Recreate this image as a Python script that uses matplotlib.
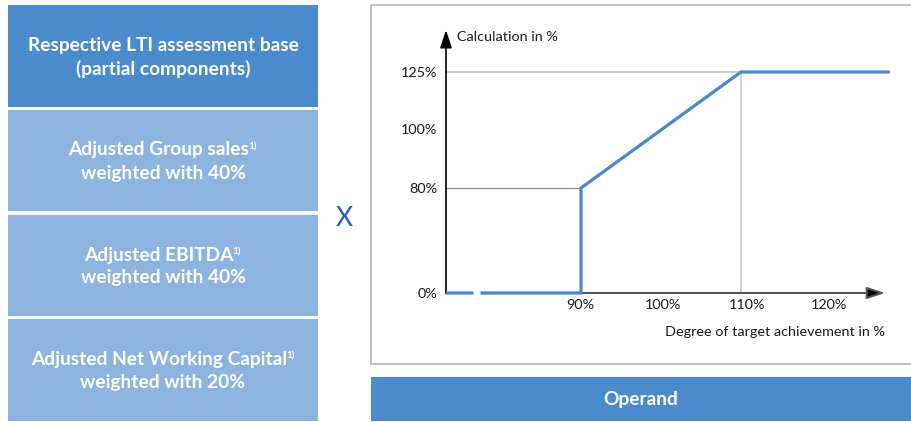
import numpy as np
import matplotlib
matplotlib.use("Agg")
import matplotlib.pyplot as plt
from matplotlib.patches import Rectangle
from matplotlib.transforms import ScaledTranslation

plt.rcParams['font.family'] = ['Lato', 'DejaVu Sans']

# --- data -------------------------------------------------------------
achievement = [73.1, 90, 90, 110, 128.6]      # degree of target achievement (%)
payout = [0, 0, 80, 125, 125]                 # calculation (%)
x_ticks = [90, 100, 110, 120]
x_tick_labels = ["90%", "100%", "110%", "120%"]
y_ticks = [0, 80, 100, 125]
y_tick_labels = ["0%", "80%", "100%", "125%"]
axis_break = [76.5, 77.4]

box_lines = [
    ("Respective LTI assessment base", "(partial components)", False),
    ("Adjusted Group sales", "weighted with 40%", True),
    ("Adjusted EBITDA", "weighted with 40%", True),
    ("Adjusted Net Working Capital", "weighted with 20%", True),
]

DARK = "#4b8bcc"
LIGHT = "#8db4de"
LINE = "#4a88cc"
TXT = "#1a1a1a"

W, H = 912, 422
fig = plt.figure(figsize=(W / 100, H / 100), dpi=100)

# canvas in pixel units for the boxes
bg = fig.add_axes([0, 0, 1, 1])
bg.set_xlim(0, W)
bg.set_ylim(H, 0)
bg.axis("off")

BOX_FS = 13.8
rows = [(5, 107), (110, 211), (215, 316), (319, 421)]
for i, ((y0, y1), (l1, l2, note)) in enumerate(zip(rows, box_lines)):
    bg.add_patch(Rectangle((8, y0), 310, y1 - y0, color=DARK if i == 0 else LIGHT, lw=0))
    yc = (y0 + y1) / 2
    t1 = bg.text(163 - (4 if note else 0), yc - 10.5, l1, ha="center", va="center",
                 color="white", fontsize=BOX_FS, fontweight="bold")
    if note:
        bg.annotate("1)", xy=(1, 0.68), xycoords=t1, xytext=(-1, 0),
                    textcoords="offset pixels", ha="left", va="center",
                    color="white", fontsize=7, fontweight="bold")
    bg.text(163, yc + 12.5, l2, ha="center", va="center", color="white",
            fontsize=BOX_FS, fontweight="bold")

bg.text(344, 219, "X", ha="center", va="center", color="#1f60bb", fontsize=19)

# chart frame and operand bar
bg.add_patch(Rectangle((371.5, 5), 545, 359, fill=False, edgecolor="#b4b4b4", lw=1.2))
bg.add_patch(Rectangle((371, 377), 545, 44, color=DARK, lw=0))
bg.text(641, 399.5, "Operand", ha="center", va="center", color="white",
        fontsize=BOX_FS, fontweight="bold")

# --- chart ------------------------------------------------------------
yk = [0, 80, 100, 125, 200]
pk = [0, 105, 164, 221, 392]


def fwd(v):
    return np.interp(v, yk, pk)


def inv(p):
    return np.interp(p, pk, yk)


ax = fig.add_axes([446 / W, (H - 293) / H, (895 - 446) / W, (293 - 26.4) / H])
ax.set_yscale("function", functions=(fwd, inv))
ax.set_xlim(73.125, 129.25)
ax.set_ylim(0, 145)
for s in ax.spines.values():
    s.set_visible(False)
ax.patch.set_alpha(0)

# reference lines
ax.plot([73.125, 110], [125, 125], color="#c8c8c8", lw=1.2, zorder=1, clip_on=False)
ax.plot([110, 110], [0, 125], color="#c8c8c8", lw=1.2, zorder=1, clip_on=False)
ax.plot([73.125, 90], [80, 80], color="#8a8a8a", lw=0.8, zorder=1, clip_on=False)

# axes arrows
ax.annotate("", xy=(128.0, 0), xytext=(73.125, 0),
            arrowprops=dict(arrowstyle="-|>,head_length=1.08,head_width=0.36",
                            mutation_scale=10, lw=1.5, color="#555555",
                            fc="black", ec="#555555", shrinkA=0, shrinkB=0),
            zorder=2, annotation_clip=False)
ax.annotate("", xy=(73.125, 143.4), xytext=(73.125, 0),
            arrowprops=dict(arrowstyle="-|>,head_length=1.08,head_width=0.36",
                            mutation_scale=10, lw=1.2, color="black",
                            shrinkA=0, shrinkB=0),
            zorder=2, annotation_clip=False)

ax.plot(achievement, payout, color=LINE, lw=2.3, zorder=3,
        solid_joinstyle="miter", solid_capstyle="butt", clip_on=False)
ax.plot(axis_break, [0, 0], color="white", lw=5, solid_capstyle="butt",
        zorder=4, clip_on=False)

ax.set_xticks(x_ticks, x_tick_labels)
ax.set_yticks(y_ticks, y_tick_labels)
ax.tick_params(axis="both", length=0, labelsize=10.4, colors=TXT)
ax.tick_params(axis="x", pad=4.5)
ax.tick_params(axis="y", pad=6)
ax.minorticks_off()

# x labels sit slightly right of their gridline positions
for lab, dx in zip(ax.get_xticklabels(), [-1, 2, 6, 8]):
    lab.set_transform(lab.get_transform() + ScaledTranslation(dx / 100, 0, fig.dpi_scale_trans))

ax.annotate("Calculation in %", xy=(73.125, 143.4), xytext=(11, -7),
            textcoords="offset pixels", ha="left", va="center", fontsize=10.4,
            color=TXT, annotation_clip=False)
ax.annotate("Degree of target achievement in %", xy=(128.0, 0), xytext=(0, -39),
            textcoords="offset pixels", ha="right", va="center", fontsize=10.4,
            color=TXT, annotation_clip=False)

fig.savefig("out.png", dpi=100)
